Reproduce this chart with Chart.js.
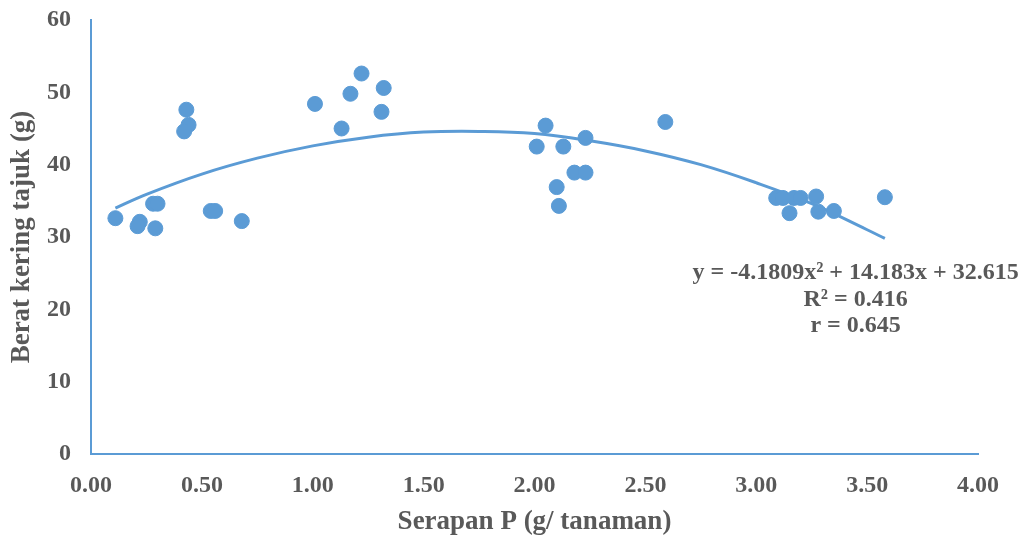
<!DOCTYPE html>
<html lang="en">
<head>
<meta charset="UTF-8">
<title>Serapan P vs Berat kering tajuk</title>
<script src="https://cdn.jsdelivr.net/npm/chart.js@4/dist/chart.umd.min.js"></script>
<style>
  html, body { margin: 0; padding: 0; background: #fff; }
  #wrap { width: 1026px; height: 538px; }
</style>
</head>
<body>
<div id="wrap"><canvas id="myChart" width="1026" height="538"></canvas></div>

<script>
    // observed points (Serapan P, Berat kering tajuk)
    var serapanP = [0.11, 0.22, 0.21, 0.29, 0.28, 0.30, 0.43, 0.44, 0.42, 0.54, 0.56, 0.68,
                    1.01, 1.13, 1.17, 1.22, 1.32, 1.31,
                    2.05, 2.01, 2.13, 2.23, 2.59, 2.18, 2.23, 2.10, 2.11,
                    3.09, 3.12, 3.17, 3.20, 3.27, 3.15, 3.28, 3.35, 3.58];
    var beratKering = [32.6, 32.1, 31.5, 31.2, 34.6, 34.6, 47.6, 45.5, 44.6, 33.6, 33.6, 32.2,
                       48.4, 45.0, 49.8, 52.6, 50.6, 47.3,
                       45.4, 42.5, 42.5, 43.7, 45.9, 38.9, 38.9, 36.9, 34.3,
                       35.4, 35.4, 35.4, 35.4, 35.6, 33.3, 33.5, 33.6, 35.5];

    // polynomial trendline
    var trendX = [0.11, 0.25, 0.5, 0.75, 1.0, 1.25, 1.5, 1.75, 2.0, 2.25, 2.5, 2.75, 3.0, 3.25, 3.5, 3.58];
    var trendY = [34.0, 35.9, 38.7, 40.9, 42.6, 43.8, 44.5, 44.6, 44.3, 43.3, 41.9, 40.0, 37.5, 34.6, 31.0, 29.8];

    var eqLines = ['y = -4.1809x² + 14.183x + 32.615', 'R² = 0.416', 'r = 0.645'];

    var blue = '#5b9bd5';
    var textGrey = '#595959';
    var serif = '"Liberation Serif", "Times New Roman", serif';

    var points = serapanP.map(function (x, i) { return { x: x, y: beratKering[i] }; });
    var trend = trendX.map(function (x, i) { return { x: x, y: trendY[i] }; });

    // equation label, placed in data coordinates near the right end of the curve
    var eqLabel = {
        id: 'eqLabel',
        afterDraw: function (chart) {
            var ctx = chart.ctx;
            var xs = chart.scales.x, ys = chart.scales.y;
            var cx = xs.getPixelForValue(3.448);
            var cy = ys.getPixelForValue(25.0);
            ctx.save();
            ctx.fillStyle = textGrey;
            ctx.font = 'bold 24px ' + serif;
            ctx.textAlign = 'center';
            ctx.textBaseline = 'middle';
            eqLines.forEach(function (t, i) {
                ctx.fillText(t, cx, cy + i * 26.5);
            });
            ctx.restore();
        }
    };

    new Chart(document.getElementById('myChart').getContext('2d'), {
        type: 'scatter',
        data: {
            datasets: [{
                label: 'Berat kering tajuk',
                data: points,
                backgroundColor: blue,
                borderColor: blue,
                pointRadius: 7.5,
                pointHoverRadius: 7.5,
                order: 1
            }, {
                label: 'Trend',
                type: 'line',
                data: trend,
                borderColor: blue,
                borderWidth: 3,
                pointRadius: 0,
                tension: 0.4,
                fill: false,
                order: 2
            }]
        },
        options: {
            responsive: false,
            animation: false,
            layout: { autoPadding: false, padding: { top: 20, right: 48, left: 0, bottom: 0 } },
            plugins: {
                legend: { display: false },
                tooltip: { enabled: false }
            },
            scales: {
                x: {
                    type: 'linear',
                    min: 0, max: 4,
                    grid: { display: false, drawTicks: false },
                    border: { display: true, color: blue, width: 2 },
                    ticks: {
                        stepSize: 0.5,
                        padding: 17,
                        color: textGrey,
                        font: { family: serif, size: 24, weight: 'bold' },
                        callback: function (v) { return v.toFixed(2); },
                        maxRotation: 0
                    },
                    title: {
                        display: true,
                        text: 'Serapan P (g/ tanaman)',
                        color: textGrey,
                        font: { family: serif, size: 27, weight: 'bold' },
                        padding: { top: 8, bottom: 0 }
                    },
                    afterFit: function (s) { s.height = 84; }
                },
                y: {
                    min: 0, max: 60,
                    grid: { display: false, drawTicks: false },
                    border: { display: true, color: blue, width: 2 },
                    ticks: {
                        stepSize: 10,
                        padding: 20,
                        color: textGrey,
                        font: { family: serif, size: 24, weight: 'bold' }
                    },
                    title: {
                        display: true,
                        text: 'Berat kering tajuk (g)',
                        color: textGrey,
                        font: { family: serif, size: 27, weight: 'bold' },
                        padding: { top: 6, bottom: 8 }
                    },
                    afterFit: function (s) {
                        s.width = 91;
                        s.paddingTop = 0;
                        s.paddingBottom = 0;
                    }
                }
            }
        },
        plugins: [eqLabel]
    });
</script>
</body>
</html>
